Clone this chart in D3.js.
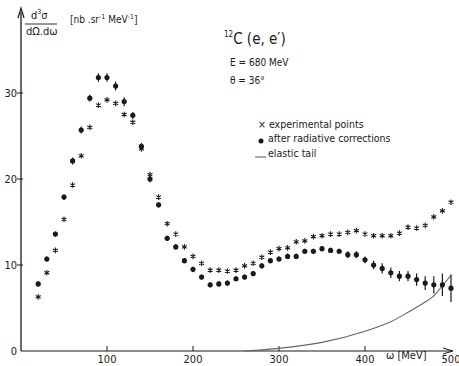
<!DOCTYPE html>
<html lang="en">
<head>
<meta charset="UTF-8">
<title>12C (e,e') cross section</title>
<script src="https://d3js.org/d3.v7.min.js"></script>
<style>
  body { margin: 0; background: #fff; }
  svg text { font-family: "DejaVu Sans Condensed", "DejaVu Sans", sans-serif; fill: #1a1a1a; }
</style>
</head>
<body>
<div id="chart"></div>
<script>
// omega values (MeV)
const omega = d3.range(20, 501, 10);

// experimental points (asterisks)
const expPoints = [6.3, 9.1, 11.7, 15.3, 19.3, 22.7, 26.0, 28.6, 29.2, 28.8,
  27.5, 26.6, 23.5, 20.5, 17.9, 14.8, 13.6, 12.1, 11.0, 10.2,
  9.4, 9.4, 9.3, 9.4, 9.9, 10.2, 10.9, 11.5, 11.9, 12.0,
  12.7, 12.8, 13.3, 13.4, 13.6, 13.6, 13.8, 14.0, 13.6, 13.4,
  13.4, 13.4, 13.7, 14.4, 14.3, 14.6, 15.6, 16.3, 17.3];

// after radiative corrections (dots)
const corrPoints = [7.8, 10.7, 13.6, 17.9, 22.1, 25.7, 29.4, 31.8, 31.8, 30.8,
  29.0, 27.4, 23.8, 20.0, 17.0, 13.1, 12.1, 10.5, 9.5, 8.6,
  7.7, 7.8, 7.9, 8.4, 8.6, 9.0, 9.9, 10.5, 10.7, 11.0,
  11.0, 11.6, 11.6, 11.9, 11.7, 11.6, 11.2, 11.2, 10.6, 10.0,
  9.6, 9.1, 8.7, 8.7, 8.3, 7.9, 7.7, 7.7, 7.3];

const corrErr = [0.3, 0.3, 0.3, 0.3, 0.4, 0.4, 0.4, 0.5, 0.5, 0.5,
  0.5, 0.4, 0.4, 0.4, 0.3, 0.3, 0.3, 0.3, 0.3, 0.3,
  0.3, 0.3, 0.3, 0.3, 0.3, 0.3, 0.3, 0.3, 0.3, 0.3,
  0.3, 0.3, 0.3, 0.3, 0.3, 0.3, 0.4, 0.4, 0.4, 0.5,
  0.6, 0.6, 0.6, 0.6, 0.7, 0.8, 1.0, 1.3, 1.6];

// elastic tail
const tailOmega = [260, 300, 350, 400, 430, 450, 470, 480, 490, 500];
const tailValue = [0.0, 0.3, 1.0, 2.3, 3.4, 4.5, 5.7, 6.4, 7.6, 8.8];

const xTicks = [100, 200, 300, 400, 500];
const yTicks = [0, 10, 20, 30];

const W = 459, H = 366;
const svg = d3.select("#chart").append("svg")
  .attr("width", W).attr("height", H);

const x = d3.scaleLinear().domain([0, 500]).range([21, 451]);
const y = d3.scaleLinear().domain([0, 30]).range([351, 93]);

const ink = "#1a1a1a";

// axes
svg.append("line")
  .attr("x1", x(0)).attr("x2", x(0))
  .attr("y1", y(0)).attr("y2", 12)
  .attr("stroke", ink).attr("stroke-width", 1.3);
svg.append("path")
  .attr("d", `M${x(0) - 3},${18} L${x(0)},${8} L${x(0) + 3},${18}`)
  .attr("fill", "none").attr("stroke", ink).attr("stroke-width", 1.2);

svg.append("line")
  .attr("x1", x(0)).attr("x2", x(500) + 1)
  .attr("y1", y(0)).attr("y2", y(0))
  .attr("stroke", ink).attr("stroke-width", 1.1);
svg.append("path")
  .attr("d", `M${x(500) - 8},${y(0) - 3} L${x(500) + 2},${y(0)} L${x(500) - 8},${y(0) + 3}`)
  .attr("fill", "none").attr("stroke", ink).attr("stroke-width", 1);

// x ticks
svg.selectAll(".xt").data(xTicks.filter(d => d < 500)).join("line")
  .attr("x1", d => x(d)).attr("x2", d => x(d))
  .attr("y1", y(0)).attr("y2", y(0) - 5)
  .attr("stroke", ink).attr("stroke-width", 1);
svg.selectAll(".xl").data(xTicks).join("text")
  .attr("x", d => x(d)).attr("y", y(0) + 12)
  .attr("text-anchor", "middle").style("font-size", "11px")
  .text(d => d);

// y ticks
svg.selectAll(".yt").data(yTicks.filter(d => d > 0)).join("line")
  .attr("x1", x(0) - 4).attr("x2", x(0) + 2)
  .attr("y1", d => y(d)).attr("y2", d => y(d))
  .attr("stroke", ink).attr("stroke-width", 1);
svg.selectAll(".yl").data(yTicks).join("text")
  .attr("x", x(0) - 4).attr("y", d => y(d) + 4)
  .attr("text-anchor", "end").style("font-size", "11px")
  .text(d => d);

// axis labels
svg.append("text").attr("x", 386).attr("y", 359)
  .style("font-size", "11px").text("ω [MeV]");

const lab = svg.append("g");
lab.append("text").attr("x", 31).attr("y", 19).style("font-size", "11px")
  .html('d<tspan dy="-5" style="font-size:7px">3</tspan><tspan dy="5">σ</tspan>');
lab.append("line").attr("x1", 25).attr("x2", 57).attr("y1", 24).attr("y2", 24)
  .attr("stroke", ink).attr("stroke-width", 0.9);
lab.append("text").attr("x", 26).attr("y", 35).style("font-size", "11px")
  .text("dΩ.dω");
lab.append("text").attr("x", 70).attr("y", 23).style("font-size", "10px")
  .html('[nb .sr<tspan dy="-4" style="font-size:7px">-1</tspan><tspan dy="4"> MeV</tspan><tspan dy="-4" style="font-size:7px">-1</tspan><tspan dy="4">]</tspan>');

// annotation text
svg.append("text").attr("x", 224).attr("y", 44).style("font-size", "15px")
  .html('<tspan dy="-7" style="font-size:8px">12</tspan><tspan dy="7">C (e, e′)</tspan>');
svg.append("text").attr("x", 230).attr("y", 66).style("font-size", "10px").text("E = 680 MeV");
svg.append("text").attr("x", 230).attr("y", 84).style("font-size", "10px").text("θ = 36°");

// legend
const leg = svg.append("g");
leg.append("text").attr("x", 258).attr("y", 128).style("font-size", "10.5px").text("× experimental points");
leg.append("circle").attr("cx", 261).attr("cy", 141).attr("r", 2.5).attr("fill", ink);
leg.append("text").attr("x", 268).attr("y", 142).style("font-size", "10.5px").text("after radiative corrections");
leg.append("line").attr("x1", 255).attr("x2", 266).attr("y1", 157).attr("y2", 157)
  .attr("stroke", "#555").attr("stroke-width", 1);
leg.append("text").attr("x", 268).attr("y", 157).style("font-size", "10.5px").text("elastic tail");

// elastic tail curve
const tail = tailOmega.map((w, i) => [w, tailValue[i]]);
svg.append("path").datum(tail)
  .attr("d", d3.line().x(d => x(d[0])).y(d => y(d[1])).curve(d3.curveMonotoneX))
  .attr("fill", "none").attr("stroke", "#666").attr("stroke-width", 1.1);

// corrected points with error bars
const corr = omega.map((w, i) => ({ w, v: corrPoints[i], e: corrErr[i] }));
svg.selectAll(".err").data(corr).join("line")
  .attr("x1", d => x(d.w)).attr("x2", d => x(d.w))
  .attr("y1", d => y(d.v - d.e)).attr("y2", d => y(d.v + d.e))
  .attr("stroke", ink).attr("stroke-width", 1.2);
svg.selectAll(".dot").data(corr).join("circle")
  .attr("cx", d => x(d.w)).attr("cy", d => y(d.v)).attr("r", 2.6)
  .attr("fill", ink);

// experimental asterisks
const star = d3.symbol().type(d3.symbolAsterisk).size(22);
const exp = omega.map((w, i) => ({ w, v: expPoints[i] }));
svg.selectAll(".ast").data(exp).join("path")
  .attr("transform", d => `translate(${x(d.w)},${y(d.v)})`)
  .attr("d", star)
  .attr("fill", "none").attr("stroke", ink).attr("stroke-width", 1.1);
</script>
</body>
</html>
